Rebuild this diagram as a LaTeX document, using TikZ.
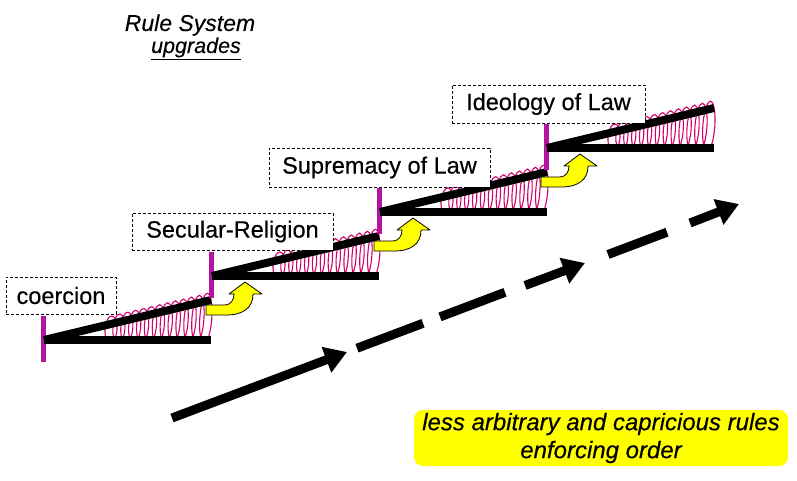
\documentclass[tikz,border=0pt]{standalone}
\usepackage{fontspec}
\setmainfont{Liberation Sans}
\usetikzlibrary{arrows.meta}
\definecolor{barmag}{RGB}{180,20,160}
\definecolor{coilmag}{RGB}{210,0,110}
\definecolor{yel}{RGB}{255,255,0}
\begin{document}
\begin{tikzpicture}[x=1pt,y=-1pt,
  blackbar/.style={line width=8pt,black},
  magbar/.style={line width=5pt,barmag},
  coil/.style={line width=1.1pt,coilmag},
  yarrow/.style={fill=yel,draw=black,line width=0.8pt,line join=round},
  lbl/.style={draw,dashed,dash pattern=on 3pt off 2pt,line width=0.8pt,fill=white,inner sep=0pt,font=\fontsize{23.5}{28}\selectfont\addfontfeature{FakeBold=0.3}},
  bigarrow/.style={line width=9pt,black},
  bighead/.style={-{Triangle[length=22pt,width=26pt]}}
]
\useasboundingbox (0,0) rectangle (797,481);
% steps
\foreach \i/\xo/\yo in {1/44/340,2/212/276,3/380/212,4/547/148}{
  \foreach \k in {0,...,12}{
    \pgfmathsetmacro\xc{\xo+67+\k*7.9}
    \pgfmathsetmacro\ytop{\yo-40*(\xc-\xo)/167-8}
    \pgfmathsetmacro\ybot{\yo+3}
    \pgfmathsetmacro\ymid{(\ytop+\ybot)/2}
    \pgfmathsetmacro\ry{(\ybot-\ytop)/2}
    \draw[coil,rotate around={-4:(\xc,\ymid)}] (\xc,\ymid) ellipse [x radius=6pt,y radius=\ry pt];
  }
  \coordinate (base\i) at (\xo,\yo);
  \coordinate (bend\i) at ({\xo+167},\yo);
  \coordinate (tend\i) at ({\xo+167},{\yo-40});
  \coordinate (mtop\i) at ({\xo-1},{\yo-24});
  \coordinate (mbot\i) at ({\xo-1},{\yo+22});
  \draw[magbar] (mtop\i) -- (mbot\i);
  \draw[blackbar] (base\i) -- (bend\i);
  \draw[blackbar] (base\i) -- (tend\i);
}
% yellow curved arrows
\foreach \xj/\yj in {212/276,380/212,547/148}{
  \draw[yarrow,shift={(\xj,\yj)}] (-6,29) -- (12,29) .. controls (19,29) and (22,24) .. (22,18)
     -- (17,18) -- (33,6) -- (50,18) -- (41,18) .. controls (41,32) and (31,39) .. (14,39) -- (-6,39) -- cycle;
}
% labels
\node[lbl,minimum width=110pt,minimum height=37pt] (coercion) at (61,295.5) {coercion};
\node[lbl,minimum width=201pt,minimum height=37pt] (secular) at (232.5,231.5) {Secular-Religion};
\node[lbl,minimum width=221pt,minimum height=39pt] (supremacy) at (379.5,167.5) {Supremacy of Law};
\node[lbl,minimum width=193pt,minimum height=38pt] (ideology) at (548.5,104) {Ideology of Law};
% title
\node[anchor=base,font=\fontsize{23}{27}\selectfont\itshape\addfontfeature{FakeBold=0.2}] (title1) at (190,31) {Rule System};
\node[anchor=base,font=\fontsize{21.5}{26}\selectfont\itshape\addfontfeature{FakeBold=0.2}] (title2) at (196,53) {\underline{upgrades}};
% big dashed arrow
\coordinate (d1a) at (172,418); \coordinate (d1b) at (347,352);
\coordinate (d2a) at (357,348.2); \coordinate (d2b) at (423,323.3);
\coordinate (d3a) at (440,316.9); \coordinate (d3b) at (505,292.3);
\coordinate (d4a) at (525,285.5); \coordinate (d4b) at (585,263);
\coordinate (d5a) at (608,254.5); \coordinate (d5b) at (667,232.2);
\coordinate (d6a) at (690,223); \coordinate (d6b) at (739,204);
\draw[bigarrow,bighead] (d1a) -- (d1b);
\draw[bigarrow] (d2a) -- (d2b);
\draw[bigarrow] (d3a) -- (d3b);
\draw[bigarrow,bighead] (d4a) -- (d4b);
\draw[bigarrow] (d5a) -- (d5b);
\draw[bigarrow,bighead] (d6a) -- (d6b);
% bottom note
\node[fill=yel,rounded corners=9pt,minimum width=374pt,minimum height=56pt,inner sep=0pt,align=center,
  font=\fontsize{24}{28}\selectfont\itshape\addfontfeature{FakeBold=0.3}] (note) at (601,438) {less arbitrary and capricious rules\\enforcing order};
\end{tikzpicture}
\end{document}
